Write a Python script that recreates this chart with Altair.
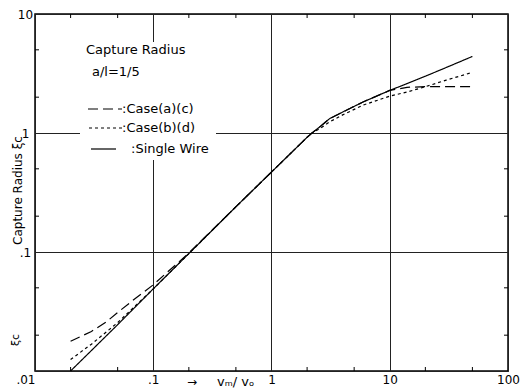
import altair as alt
import pandas as pd

# ---- data (log-log) ----
series_names = ["Case(a)(c)", "Case(b)(d)", "Single Wire"]

dashed_x = [0.02, 0.03, 0.04, 0.05, 0.07, 0.1, 0.15, 0.2, 0.5, 1, 2, 2.2, 2.6, 3.1, 4, 6, 10, 14, 20, 30, 50]
dashed_y = [0.0178, 0.0215, 0.0258, 0.031, 0.0405, 0.053, 0.076, 0.098, 0.24, 0.47, 0.92, 1.0, 1.14, 1.32, 1.5, 1.83, 2.28, 2.42, 2.45, 2.45, 2.45]

dotted_x = [0.02, 0.03, 0.05, 0.1, 0.2, 0.5, 1, 2, 2.2, 2.6, 3.1, 4, 6, 10, 14, 20, 30, 50]
dotted_y = [0.0125, 0.0168, 0.0255, 0.049, 0.097, 0.24, 0.47, 0.92, 1.0, 1.1, 1.24, 1.42, 1.72, 2.04, 2.21, 2.45, 2.78, 3.23]

solid_x = [0.02, 0.05, 0.1, 0.2, 0.5, 1, 2, 2.2, 2.6, 3.1, 4, 6, 10, 14, 20, 30, 50]
solid_y = [0.01, 0.0245, 0.049, 0.097, 0.24, 0.47, 0.92, 1.0, 1.14, 1.32, 1.5, 1.83, 2.28, 2.6, 3.0, 3.55, 4.4]

x_decades = [0.01, 0.1, 1, 10, 100]
y_decades = [0.01, 0.1, 1, 10]
x_minor = [0.02, 0.05, 0.2, 0.5, 2, 5, 20, 50]
y_minor = [0.02, 0.05, 0.2, 0.5, 2, 5]

rows = []
for name, xs_, ys_ in [(series_names[0], dashed_x, dashed_y),
                       (series_names[1], dotted_x, dotted_y),
                       (series_names[2], solid_x, solid_y)]:
    for i, (a, b) in enumerate(zip(xs_, ys_)):
        rows.append({"series": name, "vm": a, "xi": b, "order": i})
df = pd.DataFrame(rows)

W, H = 473, 357
FONT = "DejaVu Sans"

xscale = alt.Scale(type="log", domain=[0.01, 100], nice=False)
yscale = alt.Scale(type="log", domain=[0.01, 10], nice=False)

x_axis = alt.Axis(
    values=x_decades, grid=True, gridColor="#222", gridWidth=1,
    ticks=False, tickSize=0, domain=False,
    labelExpr="datum.value < 0.05 ? '.01' : datum.value < 0.5 ? '.1' : datum.value < 5 ? '1' : datum.value < 50 ? '10' : '100'",
    labelFont=FONT, labelFontSize=12, labelColor="black", labelPadding=3,
    labelAlign={"condition": {"test": "datum.value < 0.05", "value": "right"}, "value": "center"},
    labelOverlap=False, labelFlush=False,
    title=None,
)
y_axis = alt.Axis(
    values=y_decades, grid=True, gridColor="#222", gridWidth=1,
    ticks=False, tickSize=0, domain=False,
    labelExpr="datum.value > 5 ? '10' : datum.value > 0.5 ? '1' : datum.value > 0.05 ? '.1' : ''",
    labelFont=FONT, labelFontSize=12, labelColor="black", labelPadding=10,
    labelAlign="center", labelBaseline="middle",
    labelOverlap=False, labelFlush=False,
    title="Capture Radius ξc", titleX=-18, titleY=176, titleAngle=-90,
    titleAlign="center", titleBaseline="middle",
    titleFont=FONT, titleFontSize=12, titleFontWeight="normal", titleColor="black",
)

lines = alt.Chart(df).mark_line(color="black", strokeWidth=1.2).encode(
    x=alt.X("vm:Q", scale=xscale, axis=x_axis),
    y=alt.Y("xi:Q", scale=yscale, axis=y_axis),
    strokeDash=alt.StrokeDash("series:N",
                              scale=alt.Scale(domain=series_names, range=[[10, 5], [3, 3], [1, 0]]),
                              legend=None),
    detail="series:N",
    order="order:Q",
)

xt = pd.DataFrame({"vm": x_minor})
yt = pd.DataFrame({"xi": y_minor})
tick_bottom = alt.Chart(xt).mark_rule(color="black", strokeWidth=1).encode(
    x=alt.X("vm:Q", scale=xscale, axis=x_axis), y=alt.value(H), y2=alt.value(H - 4))
tick_top = alt.Chart(xt).mark_rule(color="black", strokeWidth=1).encode(
    x=alt.X("vm:Q", scale=xscale, axis=x_axis), y=alt.value(0), y2=alt.value(4))
tick_left = alt.Chart(yt).mark_rule(color="black", strokeWidth=1).encode(
    y=alt.Y("xi:Q", scale=yscale, axis=y_axis), x=alt.value(0), x2=alt.value(4))
tick_right = alt.Chart(yt).mark_rule(color="black", strokeWidth=1).encode(
    y=alt.Y("xi:Q", scale=yscale, axis=y_axis), x=alt.value(W), x2=alt.value(W - 4))

one = pd.DataFrame({"k": [0]})
white_box = alt.Chart(one).mark_rect(fill="white").encode(
    x=alt.value(45), x2=alt.value(181), y=alt.value(28), y2=alt.value(146))

def txt(s, x, y, size=13, align="left", angle=0):
    return alt.Chart(one).mark_text(text=s, font=FONT, fontSize=size, align=align,
                                     baseline="middle", color="black", angle=angle).encode(
        x=alt.value(x), y=alt.value(y))

title1 = txt("Capture Radius", 51, 36)
title2 = txt("a/l=1/5", 57, 58)
lab1 = txt(":Case(a)(c)", 87, 95)
lab2 = txt(":Case(b)(d)", 87, 114)
lab3 = txt(":Single Wire", 96, 135)
corner = txt("ξc", -19, 326, size=11, align="center", angle=270)
xarrow = txt("→", 152, 368, size=12)
xtitle = txt("vₘ/ vₒ", 182, 368, size=13)

samp1 = alt.Chart(one).mark_rule(color="black", strokeWidth=1.2, strokeDash=[10, 5]).encode(
    x=alt.value(53), x2=alt.value(87), y=alt.value(95))
samp2 = alt.Chart(one).mark_rule(color="black", strokeWidth=1.0, strokeDash=[3, 3]).encode(
    x=alt.value(54), x2=alt.value(87), y=alt.value(114))
samp3 = alt.Chart(one).mark_rule(color="black", strokeWidth=1.2).encode(
    x=alt.value(56), x2=alt.value(81), y=alt.value(135))

chart = alt.layer(
    lines, white_box, tick_bottom, tick_top, tick_left, tick_right,
    title1, title2, samp1, samp2, samp3, lab1, lab2, lab3, corner, xarrow, xtitle,
).properties(
    width=W, height=H,
    autosize=alt.AutoSizeParams(type="none"),
    padding={"left": 27, "top": 6, "right": 14, "bottom": 18},
    background="white",
).configure_view(stroke="black", strokeWidth=1.5)

chart.save("out.html", embed_options={"renderer": "svg", "actions": False})
